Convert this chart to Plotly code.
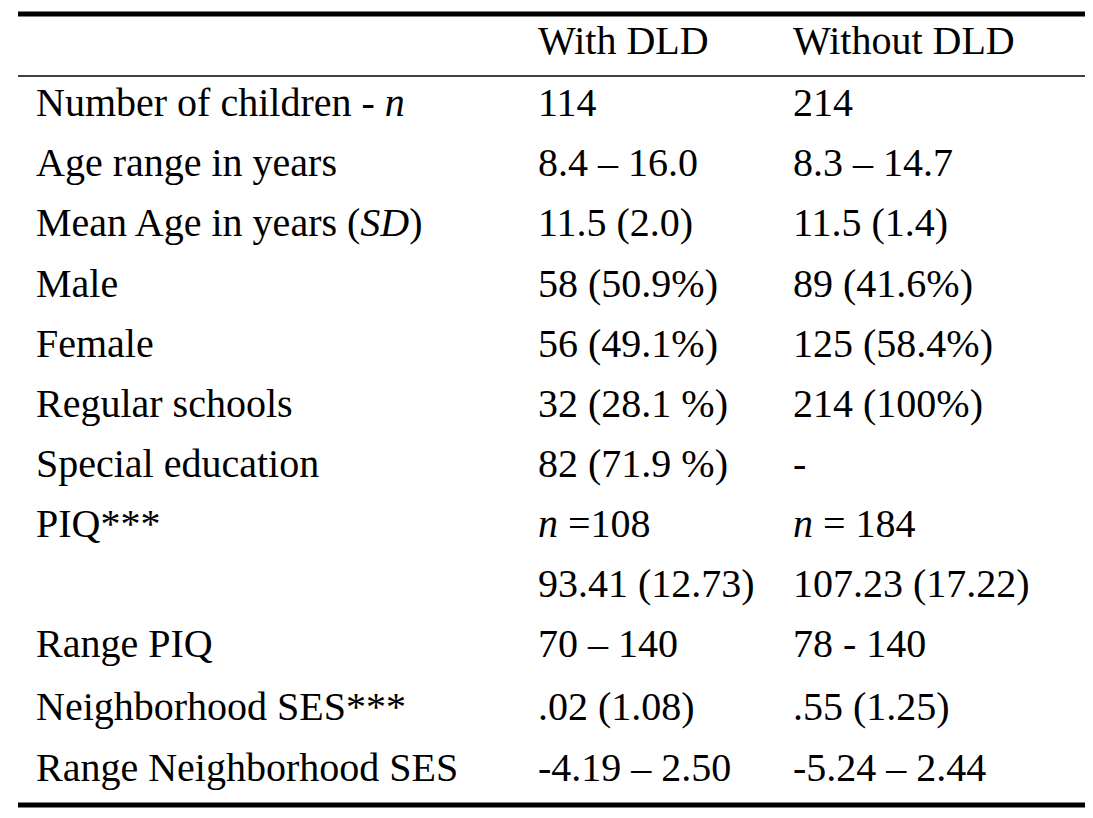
import plotly.graph_objects as go

headers = ["", "With DLD", "Without DLD"]
labels = ["Number of children - <i>n</i>", "Age range in years", "Mean Age in years (<i>SD</i>)",
          "Male", "Female", "Regular schools", "Special education", "PIQ***", "",
          "Range PIQ", "Neighborhood SES***", "Range Neighborhood SES"]
with_dld = ["114", "8.4 – 16.0", "11.5 (2.0)", "58 (50.9%)", "56 (49.1%)", "32 (28.1 %)",
            "82 (71.9 %)", "<i>n</i> =108", "93.41 (12.73)", "70 – 140", ".02 (1.08)", "-4.19 – 2.50"]
without_dld = ["214", "8.3 – 14.7", "11.5 (1.4)", "89 (41.6%)", "125 (58.4%)", "214 (100%)",
               "-", "<i>n</i> = 184", "107.23 (17.22)", "78 - 140", ".55 (1.25)", "-5.24 – 2.44"]
row_y = [102, 162, 222, 282, 342, 402, 462, 522, 582, 642, 705, 766]
footnote = "*** <i>p</i> < .001"

W, H = 1093, 818
font = dict(family="Liberation Serif", size=40, color="black")
col_x = [26, 528, 783]
dy = -7


def px(x):
    return x / W


def py(y):
    return 1 - (y + dy) / H


fig = go.Figure()
anns = []
for x, h in zip(col_x, headers):
    anns.append(dict(x=x, y=40, text=h))
for i, y in enumerate(row_y):
    for x, t in zip(col_x, (labels[i], with_dld[i], without_dld[i])):
        anns.append(dict(x=x, y=y, text=t))
anns.append(dict(x=26, y=836, text=footnote))
for a in anns:
    fig.add_annotation(xref="paper", yref="paper", x=px(a["x"]), y=py(a["y"]), text=a["text"],
                       xanchor="left", yanchor="middle", showarrow=False, font=font)

for y, w in [(13, 5), (75, 1.5), (804, 5)]:
    fig.add_shape(type="line", xref="paper", yref="paper", x0=px(10), x1=px(1083),
                  y0=py(y), y1=py(y), line=dict(color="black", width=w))

fig.update_xaxes(visible=False)
fig.update_yaxes(visible=False)
fig.update_layout(width=W, height=H, margin=dict(l=0, r=0, t=0, b=0),
                  plot_bgcolor="white", paper_bgcolor="white", showlegend=False)
fig.write_html("out.html")
